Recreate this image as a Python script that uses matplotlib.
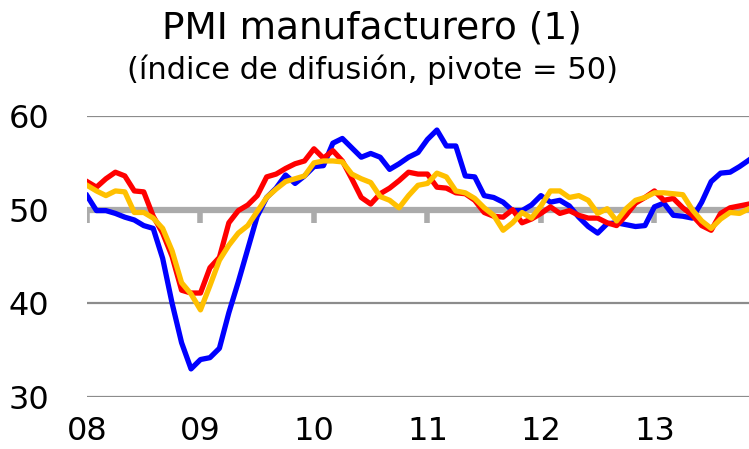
import numpy as np
import matplotlib
matplotlib.use("Agg")
import matplotlib.pyplot as plt

# monthly readings, Jan 2008 .. Nov 2013
blue = [51.5, 49.9, 49.9, 49.6, 49.2, 48.9, 48.3, 48.0, 44.8, 40.0, 35.8, 33.0,
        34.0, 34.2, 35.2, 39.0, 42.3, 45.8, 49.3, 51.3, 52.3, 53.7, 52.8, 53.6,
        54.6, 54.7, 57.1, 57.6, 56.6, 55.6, 56.0, 55.6, 54.3, 54.9, 55.6, 56.1,
        57.5, 58.5, 56.8, 56.8, 53.6, 53.5, 51.5, 51.3, 50.8, 49.9, 49.9, 50.5,
        51.5, 50.8, 51.0, 50.4, 49.2, 48.2, 47.5, 48.5, 48.6, 48.4, 48.2, 48.3,
        50.3, 50.7, 49.4, 49.3, 49.1, 50.8, 53.0, 53.9, 54.0, 54.6, 55.3]
red = [53.0, 52.4, 53.3, 54.0, 53.6, 52.0, 51.9, 49.3, 47.5, 45.0, 41.4, 41.1,
       41.1, 43.8, 44.9, 48.6, 49.9, 50.5, 51.5, 53.5, 53.8, 54.4, 54.9, 55.2,
       56.5, 55.5, 56.3, 55.2, 53.3, 51.3, 50.6, 51.7, 52.3, 53.1, 54.0, 53.8,
       53.8, 52.4, 52.3, 51.8, 51.7, 51.0, 49.7, 49.3, 49.2, 50.0, 48.6, 49.0,
       49.6, 50.3, 49.6, 49.9, 49.4, 49.1, 49.1, 48.6, 48.3, 49.4, 50.7, 51.3,
       52.0, 51.0, 51.2, 50.2, 49.4, 48.3, 47.8, 49.6, 50.2, 50.4, 50.6]
orange = [52.6, 52.0, 51.5, 52.0, 51.9, 49.7, 49.7, 49.1, 48.0, 45.6, 42.2, 41.0,
          39.3, 41.9, 44.6, 46.2, 47.5, 48.3, 49.8, 51.3, 52.2, 53.0, 53.3, 53.6,
          55.0, 55.2, 55.2, 55.1, 53.8, 53.3, 52.9, 51.4, 51.0, 50.2, 51.5, 52.6,
          52.8, 53.9, 53.5, 52.0, 51.8, 51.2, 50.2, 49.4, 47.8, 48.6, 49.7, 49.1,
          50.4, 52.0, 52.0, 51.3, 51.5, 51.0, 49.6, 50.1, 48.8, 50.1, 51.0, 51.3,
          51.8, 51.8, 51.7, 51.6, 50.0, 48.8, 48.0, 49.0, 49.7, 49.6, 50.1]
years = ["08", "09", "10", "11", "12", "13"]

months = np.arange(len(blue))
year_pos = np.arange(len(years)) * 12

fig = plt.figure(figsize=(7.49, 4.49), dpi=100)
ax = fig.add_axes([87/749, 52/449, 1 - 87/749, 281/449])

for y in [30, 40, 60]:
    ax.axhline(y, color="#8c8c8c", lw=1.6, zorder=1)
ax.axhline(50, color="#ababab", lw=4.5, zorder=1)
ax.vlines(year_pos, 48.6, 50, color="#ababab", lw=4, zorder=1)

ax.plot(months, blue, color="#0000ff", lw=3.8, zorder=3)
ax.plot(months, red, color="#ff0000", lw=3.8, zorder=3)
ax.plot(months, orange, color="#ffc000", lw=3.8, zorder=4)

ax.set_xlim(0, 70)
ax.set_ylim(30, 60)
ax.set_yticks([30, 40, 50, 60])
ax.set_yticklabels(["30", "40", "50", "60"], fontsize=23)
ax.set_xticks(year_pos)
ax.set_xticklabels(years, fontsize=23)
ax.tick_params(axis="y", length=0, pad=27)
ax.tick_params(axis="x", length=0, pad=14)
for s in ax.spines.values():
    s.set_visible(False)

fig.text(0.497, 0.937, "PMI manufacturero (1)", ha="center", va="center",
         fontsize=27)
fig.text(0.497, 0.845, "(índice de difusión, pivote = 50)", ha="center", va="center",
         fontsize=22)

fig.savefig("out.png", dpi=100)
